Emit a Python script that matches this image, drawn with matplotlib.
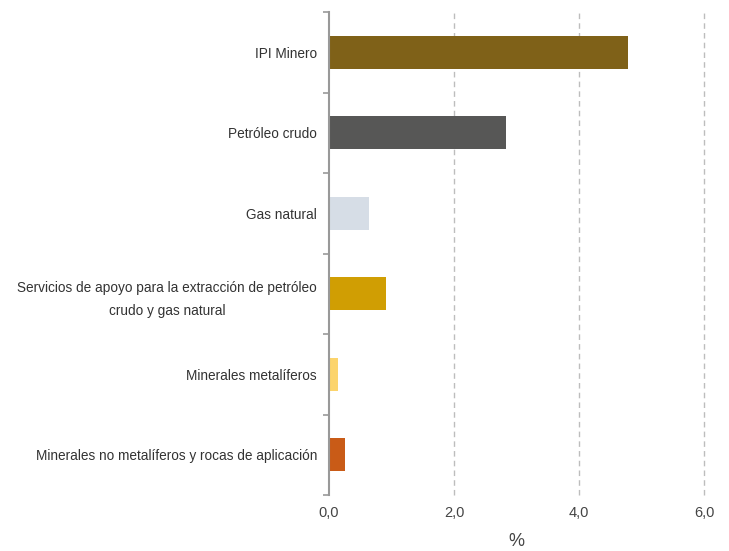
import numpy as np
import matplotlib
matplotlib.use("Agg")
import matplotlib.pyplot as plt

# Categories (top to bottom) and their values, in %
categories = [
    "IPI Minero",
    "Petróleo crudo",
    "Gas natural",
    "Servicios de apoyo para la extracción de petróleo\ncrudo y gas natural",
    "Minerales metalíferos",
    "Minerales no metalíferos y rocas de aplicación",
]
values = [4.78, 2.83, 0.64, 0.91, 0.14, 0.26]
colors = ["#7f6118", "#575756", "#d6dde6", "#d09e03", "#fcd46c", "#c95b17"]
xticks = [0, 2, 4, 6]
xtick_labels = ["0,0", "2,0", "4,0", "6,0"]

plt.rcParams['font.family'] = ['Liberation Sans', 'DejaVu Sans']

fig = plt.figure(figsize=(7.29, 5.51), dpi=100)
ax = fig.add_axes([0.4513, 0.1016, 0.5144, 0.8766])

y = np.arange(len(categories))
ax.barh(y, values, height=0.41, color=colors, zorder=3)

ax.set_xlim(0, 6)
ax.set_ylim(len(categories) - 0.5, -0.5)

# dashed vertical gridlines
for xv in xticks[1:]:
    ax.axvline(xv, color="#bdbdbd", linestyle=(0, (4, 3)), linewidth=1,
               zorder=1, clip_on=False)

for side in ["top", "right", "bottom"]:
    ax.spines[side].set_visible(False)
ax.spines["left"].set_color("#999999")
ax.spines["left"].set_linewidth(1.5)
ax.spines["left"].set_zorder(4)

ax.set_yticks(y)
ax.set_yticklabels(categories, fontsize=9.85, color="#333333", ha="center",
                   linespacing=1.75)
ax.tick_params(axis="y", which="major", length=0)
ax.set_yticks(np.arange(-0.5, len(categories)), minor=True)
ax.tick_params(axis="y", which="minor", length=4, width=1.2, color="#999999")

# center labels so their right edge sits near the axis
fig.canvas.draw()
renderer = fig.canvas.get_renderer()
for lab in ax.get_yticklabels():
    w = lab.get_window_extent(renderer).width
    lab.set_x(0)
    lab.set_transform(ax.get_yaxis_transform() + matplotlib.transforms.ScaledTranslation(
        -(12 + w / 2) / 100, 0, fig.dpi_scale_trans))

ax.set_xticks(xticks)
ax.set_xticklabels(xtick_labels, fontsize=10.5, color="#444444")
ax.tick_params(axis="x", length=0, pad=8)
ax.set_xlabel("%", fontsize=13, color="#444444", labelpad=9)

fig.savefig("out.png", dpi=100)
